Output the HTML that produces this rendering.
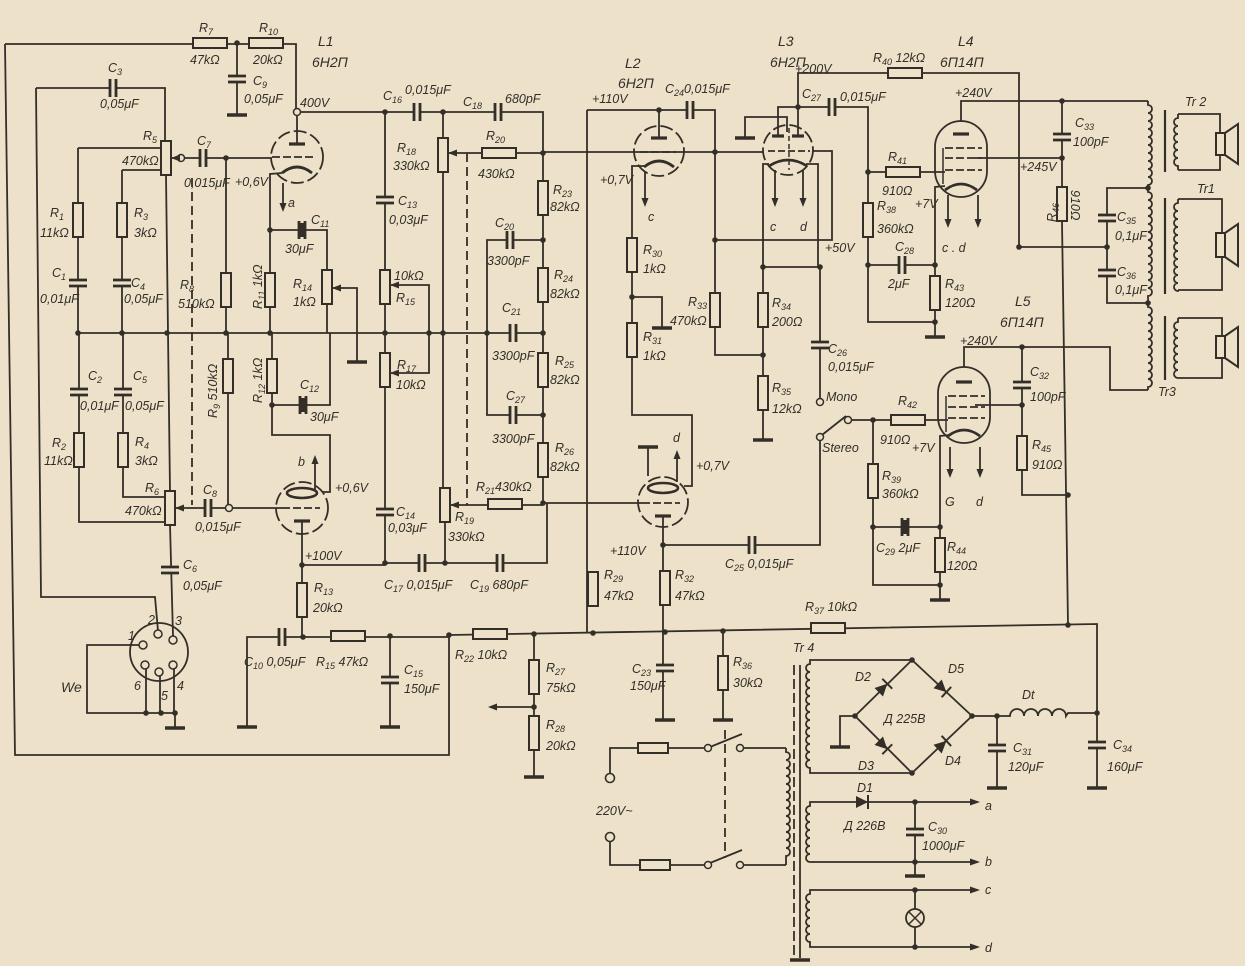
<!DOCTYPE html>
<html><head><meta charset="utf-8"><style>
html,body{margin:0;padding:0;background:#ede2c9;}
svg{display:block}
.w{stroke:#332e28;stroke-width:1.8;fill:none;stroke-linejoin:miter}
text{font-family:"Liberation Sans",sans-serif;font-style:italic;font-size:12.5px;fill:#332e28}
.big{font-size:14px}
</style></head><body>
<svg width="1245" height="966" viewBox="0 0 1245 966" xmlns="http://www.w3.org/2000/svg">
<defs>
<g id="rv"><rect x="-5" y="-17" width="10" height="34" fill="#ede2c9" stroke="#332e28" stroke-width="2"/></g>
<g id="rh"><rect x="-17" y="-5" width="34" height="10" fill="#ede2c9" stroke="#332e28" stroke-width="2"/></g>
<g id="fu"><rect x="-15" y="-5" width="30" height="10" fill="#ede2c9" stroke="#332e28" stroke-width="2"/></g>
<g id="cv"><rect x="-11" y="-3" width="22" height="6" fill="#ede2c9"/><line x1="-9" y1="-3" x2="9" y2="-3" stroke="#332e28" stroke-width="2.8"/><line x1="-9" y1="3" x2="9" y2="3" stroke="#332e28" stroke-width="2.8"/></g>
<g id="ch"><rect x="-3" y="-11" width="6" height="22" fill="#ede2c9"/><line y1="-9" x1="-3" y2="9" x2="-3" stroke="#332e28" stroke-width="2.8"/><line y1="-9" x1="3" y2="9" x2="3" stroke="#332e28" stroke-width="2.8"/></g>
<g id="gnd"><line x1="-10" y1="0" x2="10" y2="0" stroke="#332e28" stroke-width="3.4"/></g>
<g id="dot"><circle r="2.8" fill="#332e28"/></g>
<g id="oc"><circle r="3.5" fill="#ede2c9" stroke="#332e28" stroke-width="1.5"/></g>
<g id="al"><path d="M0,0 L9,-3.5 L9,3.5Z" fill="#332e28"/></g>
<g id="ad"><path d="M0,0 L-3.5,-9 L3.5,-9Z" fill="#332e28"/></g>
<g id="au"><path d="M0,0 L-3.5,9 L3.5,9Z" fill="#332e28"/></g>
<g id="ar"><path d="M0,0 L-10,-3.5 L-10,3.5Z" fill="#332e28"/></g>
<g id="dio"><path d="M-6,-6 L-6,6 L6,0Z" fill="#332e28"/><line x1="6" y1="-7" x2="6" y2="7" stroke="#332e28" stroke-width="2"/></g>
</defs>

<g class="w">
<path d="M5,44 L15,755 H449 V635"/>
<path d="M5,44 H296 V112"/>
<path d="M237,43 V115"/>
<path d="M296,112 H543 V503"/>
<path d="M297,112 V144"/>
<path d="M36,88 H165 V141"/>
<path d="M36,88 L41,597 H155 L158,631"/>
<path d="M78,148 H161 M78,148 V333"/>
<path d="M122,170 H161 M122,170 V333"/>
<path d="M166,175 L170,491"/>
<path d="M171,158 H178 M184,158 H272"/>
<path d="M226,158 V333"/>
<path d="M192,178 V505" stroke-dasharray="9 5"/>
<path d="M282,173 L270,174 V333"/>
<path d="M270,230 H327 V333"/>
<path d="M332,288 H357 V362"/>
<path d="M283,183 V203"/>
<path d="M78,333 H543"/>
<path d="M79,333 V522 H165"/>
<path d="M123,333 V497 H165"/>
<path d="M170,525 L173,636"/>
<path d="M175,508 H226 M232,508 H282"/>
<path d="M228,333 V505"/>
<path d="M272,333 V435 H330 V492 H322"/>
<path d="M272,405 H330 V333"/>
<path d="M302,521 V637"/>
<path d="M302,565 H385"/>
<path d="M315,490 V462"/>
<path d="M139,645 H87 V713 H175 V728"/>
<path d="M146,669 V713 M160,676 V713 M174,669 V713"/>
<path d="M247,727 V637 H449"/>
<path d="M390,636 V727"/>
<path d="M449,635 L1097,624 V788"/>
<path d="M534,634 V777"/>
<path d="M534,707 H497"/>
<path d="M443,112 V488"/>
<path d="M448,153 H543"/>
<path d="M467,153 V505" stroke-dasharray="9 5"/>
<path d="M543,240 H487 V415 H543"/>
<path d="M445,522 V563 H547 V503"/>
<path d="M445,563 H385 V112"/>
<path d="M390,285 H429 V373 H390"/>
<path d="M450,505 H543"/>
<path d="M543,152 H763"/>
<path d="M543,503 H642"/>
<path d="M587,110 V633"/>
<path d="M587,110 H715 V355 H763"/>
<path d="M659,110 V138"/>
<path d="M644,166 L632,166 V415 H692 V486 H684"/>
<path d="M632,297 H662 V328"/>
<path d="M645,172 V198"/>
<path d="M663,516 V720"/>
<path d="M663,545 H820 V440"/>
<path d="M648,476 V447"/>
<path d="M677,482 V458"/>
<path d="M723,631 V720"/>
<path d="M715,240 H832 V151 H812"/>
<path d="M769,164 L763,164 V440"/>
<path d="M806,164 H818 V267"/>
<path d="M763,267 H820 V399"/>
<path d="M745,138 V117 H787 V132"/>
<path d="M778,136 V107 H798"/>
<path d="M798,136 V73 H1019 V247 H1107"/>
<path d="M798,107 H868 V322 H935"/>
<path d="M775,170 V198 M803,170 V198"/>
<path d="M868,172 H945"/>
<path d="M868,265 H935"/>
<path d="M945,186 L935,187 V337"/>
<path d="M961,122 V101 H1148"/>
<path d="M975,158 H1062"/>
<path d="M1062,101 V222 L1068,625"/>
<path d="M948,195 V220 M978,195 V220"/>
<path d="M1148,188 H1107 V303 H1148"/>
<path d="M1148,101 V105 a4,4 0 0 1 0,8 a4,4 0 0 1 0,8 a4,4 0 0 1 0,8 a4,4 0 0 1 0,8 a4,4 0 0 1 0,8 a4,4 0 0 1 0,8 a4,4 0 0 1 0,8 a4,4 0 0 1 0,8 a4,4 0 0 1 0,8 a4,4 0 0 1 0,8 V188"/>
<path d="M1148,188 V192 a4,4 0 0 1 0,8 a4,4 0 0 1 0,8 a4,4 0 0 1 0,8 a4,4 0 0 1 0,8 a4,4 0 0 1 0,8 a4,4 0 0 1 0,8 a4,4 0 0 1 0,8 a4,4 0 0 1 0,8 a4,4 0 0 1 0,8 a4,4 0 0 1 0,8 a4,4 0 0 1 0,8 a4,4 0 0 1 0,8 a4,4 0 0 1 0,8 V303"/>
<path d="M1148,303 V307 a4,4 0 0 1 0,8 a4,4 0 0 1 0,8 a4,4 0 0 1 0,8 a4,4 0 0 1 0,8 a4,4 0 0 1 0,8 a4,4 0 0 1 0,8 a4,4 0 0 1 0,8 a4,4 0 0 1 0,8 a4,4 0 0 1 0,8 a4,4 0 0 1 0,8 V390"/>
<path d="M1165,110 V172 M1165,198 V294 M1165,316 V380" stroke-width="2.2"/>
<path d="M1178,114 H1220 V170 H1178"/>
<path d="M1178,114 V118 a4,4 0 0 0 0,8 a4,4 0 0 0 0,8 a4,4 0 0 0 0,8 a4,4 0 0 0 0,8 a4,4 0 0 0 0,8 a4,4 0 0 0 0,8 V170"/>
<path d="M1178,199 H1222 V290 H1178"/>
<path d="M1178,199 V203 a4,4 0 0 0 0,8 a4,4 0 0 0 0,8 a4,4 0 0 0 0,8 a4,4 0 0 0 0,8 a4,4 0 0 0 0,8 a4,4 0 0 0 0,8 a4,4 0 0 0 0,8 a4,4 0 0 0 0,8 a4,4 0 0 0 0,8 a4,4 0 0 0 0,8 a4,4 0 0 0 0,8 V290"/>
<path d="M1178,318 H1222 V378 H1178"/>
<path d="M1178,318 V322 a4,4 0 0 0 0,8 a4,4 0 0 0 0,8 a4,4 0 0 0 0,8 a4,4 0 0 0 0,8 a4,4 0 0 0 0,8 a4,4 0 0 0 0,8 a4,4 0 0 0 0,8 V378"/>
<path d="M1216,133 h9 v22 h-9 z M1225,133 L1238,124 V164 L1225,155" fill="#ede2c9" stroke-width="2"/>
<path d="M1216,233 h9 v24 h-9 z M1225,233 L1238,224 V266 L1225,257" fill="#ede2c9" stroke-width="2"/>
<path d="M1216,336 h9 v22 h-9 z M1225,336 L1238,327 V367 L1225,358" fill="#ede2c9" stroke-width="2"/>
<path d="M964,367 V347 H1110 V390 H1148"/>
<path d="M1022,347 V495 H1068"/>
<path d="M975,405 H1022"/>
<path d="M851,420 H948"/>
<path d="M873,420 V585 H940"/>
<path d="M873,527 H940"/>
<path d="M950,435 L940,436 V600"/>
<path d="M950,447 V470 M980,447 V470"/>
<path d="M822,435 L846,416"/>
<path d="M610,774 V748 H705"/>
<path d="M710,747 L742,734"/>
<path d="M743,748 H786"/>
<path d="M610,841 V865 H705"/>
<path d="M710,863 L742,850"/>
<path d="M743,865 H786"/>
<path d="M725,730 V858" stroke-dasharray="9 5"/>
<path d="M786,748 V752 a4,4 0 0 1 0,8 a4,4 0 0 1 0,8 a4,4 0 0 1 0,8 a4,4 0 0 1 0,8 a4,4 0 0 1 0,8 a4,4 0 0 1 0,8 a4,4 0 0 1 0,8 a4,4 0 0 1 0,8 a4,4 0 0 1 0,8 a4,4 0 0 1 0,8 a4,4 0 0 1 0,8 a4,4 0 0 1 0,8 a4,4 0 0 1 0,8 V865"/>
<path d="M794,665 V955" stroke-dasharray="10 4"/>
<path d="M800,665 V958"/>
<path d="M912,660 H810 V664 a4,4 0 0 0 0,8 a4,4 0 0 0 0,8 a4,4 0 0 0 0,8 a4,4 0 0 0 0,8 a4,4 0 0 0 0,8 a4,4 0 0 0 0,8 a4,4 0 0 0 0,8 a4,4 0 0 0 0,8 a4,4 0 0 0 0,8 a4,4 0 0 0 0,8 a4,4 0 0 0 0,8 a4,4 0 0 0 0,8 a4,4 0 0 0 0,8 V773 H912"/>
<path d="M912,660 L855,716 L912,773 L972,716 Z"/>
<path d="M855,716 H840 V747"/>
<path d="M972,716 H1010 a7,7 0 0 1 14,0 a7,7 0 0 1 14,0 a7,7 0 0 1 14,0 a7,7 0 0 1 14,0 L1068,713 H1097"/>
<path d="M997,716 V788"/>
<path d="M972,802 H810 V806 a4,4 0 0 0 0,8 a4,4 0 0 0 0,8 a4,4 0 0 0 0,8 a4,4 0 0 0 0,8 a4,4 0 0 0 0,8 a4,4 0 0 0 0,8 a4,4 0 0 0 0,8 V862 H972"/>
<path d="M915,802 V876"/>
<path d="M972,890 H810 V894 a4,4 0 0 0 0,8 a4,4 0 0 0 0,8 a4,4 0 0 0 0,8 a4,4 0 0 0 0,8 a4,4 0 0 0 0,8 a4,4 0 0 0 0,8 V947 H972"/>
<path d="M915,890 V947"/>
</g>

<g class="w" stroke-width="2.2">
<circle cx="297" cy="157" r="26" stroke-dasharray="13 4"/>
<line x1="289" y1="144" x2="305" y2="144" stroke-width="3.2"/>
<line x1="272" y1="157" x2="314" y2="157" stroke-dasharray="8 3"/>
<path d="M282,173 Q297,161 312,173" stroke-width="2.8"/>

<circle cx="302" cy="508" r="26" stroke-dasharray="13 4"/>
<line x1="294" y1="521" x2="310" y2="521" stroke-width="3.2"/>
<line x1="282" y1="508" x2="320" y2="508" stroke-dasharray="8 3"/>
<ellipse cx="302" cy="493" rx="15" ry="5" stroke-width="2.6"/>

<circle cx="659" cy="151" r="25" stroke-dasharray="13 4"/>
<line x1="651" y1="138" x2="667" y2="138" stroke-width="3.2"/>
<line x1="640" y1="152" x2="676" y2="152" stroke-dasharray="8 3"/>
<path d="M644,167 Q659,155 674,167" stroke-width="2.8"/>

<circle cx="663" cy="502" r="25" stroke-dasharray="13 4"/>
<line x1="655" y1="516" x2="671" y2="516" stroke-width="3.2"/>
<line x1="642" y1="503" x2="680" y2="503" stroke-dasharray="8 3"/>
<ellipse cx="663" cy="488" rx="15" ry="5" stroke-width="2.6"/>

<circle cx="788" cy="150" r="25" stroke-dasharray="13 4"/>
<line x1="772" y1="136" x2="784" y2="136" stroke-width="3.2"/>
<line x1="792" y1="136" x2="804" y2="136" stroke-width="3.2"/>
<line x1="768" y1="151" x2="810" y2="151" stroke-dasharray="7 3"/>
<line x1="789" y1="128" x2="789" y2="170" stroke-dasharray="5 3" stroke-width="1.5"/>
<path d="M769,166 Q788,154 807,166" stroke-width="2.8"/>

<rect x="935" y="121" width="52" height="76" rx="26" ry="26"/>
<line x1="953" y1="134" x2="969" y2="134" stroke-width="3.2"/>
<line x1="945" y1="148" x2="982" y2="148" stroke-dasharray="8 3"/>
<line x1="945" y1="158" x2="982" y2="158" stroke-dasharray="8 3"/>
<line x1="945" y1="170" x2="982" y2="170" stroke-dasharray="8 3"/>
<line x1="943" y1="148" x2="943" y2="184" stroke-width="1.5"/>
<path d="M945,190 Q961,178 977,190" stroke-width="2.8"/>

<rect x="938" y="367" width="52" height="76" rx="26" ry="26"/>
<line x1="956" y1="382" x2="972" y2="382" stroke-width="3.2"/>
<line x1="948" y1="396" x2="985" y2="396" stroke-dasharray="8 3"/>
<line x1="948" y1="407" x2="985" y2="407" stroke-dasharray="8 3"/>
<line x1="948" y1="418" x2="985" y2="418" stroke-dasharray="8 3"/>
<line x1="946" y1="396" x2="946" y2="432" stroke-width="1.5"/>
<path d="M948,436 Q964,424 980,436" stroke-width="2.8"/>

<circle cx="159" cy="652" r="29"/>
<circle cx="143" cy="645" r="4" stroke-width="1.5" fill="#ede2c9"/>
<circle cx="158" cy="634" r="4" stroke-width="1.5" fill="#ede2c9"/>
<circle cx="173" cy="640" r="4" stroke-width="1.5" fill="#ede2c9"/>
<circle cx="145" cy="665" r="4" stroke-width="1.5" fill="#ede2c9"/>
<circle cx="159" cy="672" r="4" stroke-width="1.5" fill="#ede2c9"/>
<circle cx="173" cy="665" r="4" stroke-width="1.5" fill="#ede2c9"/>

<circle cx="915" cy="918" r="9" stroke-width="1.8" fill="#ede2c9"/>
<path d="M909,912 L921,924 M921,912 L909,924" stroke-width="1.5"/>
</g>

<use href="#rh" x="210" y="43"/><use href="#rh" x="266" y="43"/>
<use href="#rv" x="78" y="220"/><use href="#rv" x="122" y="220"/>
<use href="#rv" x="166" y="158"/><use href="#rv" x="170" y="508"/>
<use href="#rv" x="226" y="290"/><use href="#rv" x="270" y="290"/>
<use href="#rv" x="327" y="287"/><use href="#rv" x="385" y="287"/>
<use href="#rv" x="385" y="370"/><use href="#rv" x="443" y="155"/>
<use href="#rv" x="445" y="505"/>
<use href="#rv" x="543" y="198"/><use href="#rv" x="543" y="285"/>
<use href="#rv" x="543" y="370"/><use href="#rv" x="543" y="460"/>
<use href="#rv" x="79" y="450"/><use href="#rv" x="123" y="450"/>
<use href="#rv" x="228" y="376"/><use href="#rv" x="272" y="376"/>
<use href="#rv" x="302" y="600"/>
<use href="#rv" x="534" y="677"/><use href="#rv" x="534" y="733"/>
<use href="#rv" x="593" y="589"/><use href="#rv" x="632" y="255"/>
<use href="#rv" x="632" y="340"/><use href="#rv" x="665" y="588"/>
<use href="#rv" x="715" y="310"/><use href="#rv" x="763" y="310"/>
<use href="#rv" x="763" y="393"/><use href="#rv" x="723" y="673"/>
<use href="#rv" x="868" y="220"/><use href="#rv" x="935" y="293"/>
<use href="#rv" x="1062" y="204"/><use href="#rv" x="873" y="481"/>
<use href="#rv" x="940" y="555"/><use href="#rv" x="1022" y="453"/>
<use href="#rh" x="499" y="153"/><use href="#rh" x="505" y="504"/>
<use href="#rh" x="348" y="636"/><use href="#rh" x="490" y="634"/>
<use href="#rh" x="828" y="628"/><use href="#rh" x="905" y="73"/>
<use href="#rh" x="903" y="172"/><use href="#rh" x="908" y="420"/>
<use href="#fu" x="653" y="748"/><use href="#fu" x="655" y="865"/>

<use href="#cv" x="237" y="79"/><use href="#cv" x="78" y="283"/><use href="#cv" x="122" y="283"/>
<use href="#cv" x="385" y="200"/><use href="#cv" x="79" y="392"/><use href="#cv" x="123" y="392"/>
<use href="#cv" x="385" y="512"/><use href="#cv" x="170" y="570"/><use href="#cv" x="390" y="680"/>
<use href="#cv" x="665" y="668"/><use href="#cv" x="820" y="345"/><use href="#cv" x="1062" y="137"/>
<use href="#cv" x="1107" y="218"/><use href="#cv" x="1107" y="273"/><use href="#cv" x="1022" y="385"/>
<use href="#cv" x="997" y="748"/><use href="#cv" x="1097" y="745"/><use href="#cv" x="915" y="832"/>
<use href="#ch" x="113" y="88"/><use href="#ch" x="203" y="158"/><use href="#ch" x="208" y="508"/>
<use href="#ch" x="302" y="230"/><use href="#ch" x="303" y="405"/><use href="#ch" x="417" y="112"/>
<use href="#ch" x="498" y="112"/><use href="#ch" x="510" y="240"/><use href="#ch" x="513" y="333"/>
<use href="#ch" x="513" y="415"/><use href="#ch" x="422" y="563"/><use href="#ch" x="500" y="563"/>
<use href="#ch" x="690" y="110"/><use href="#ch" x="752" y="545"/><use href="#ch" x="832" y="107"/>
<use href="#ch" x="902" y="265"/><use href="#ch" x="905" y="527"/><use href="#ch" x="282" y="637"/>
<rect x="299" y="223" width="6" height="14" fill="#332e28"/>
<rect x="300" y="398" width="6" height="14" fill="#332e28"/>
<rect x="902" y="520" width="6" height="14" fill="#332e28"/>

<use href="#gnd" x="237" y="115"/><use href="#gnd" x="357" y="362"/><use href="#gnd" x="175" y="728"/>
<use href="#gnd" x="247" y="727"/><use href="#gnd" x="390" y="727"/><use href="#gnd" x="534" y="777"/>
<use href="#gnd" x="665" y="720"/><use href="#gnd" x="723" y="720"/><use href="#gnd" x="662" y="328"/>
<use href="#gnd" x="648" y="447"/><use href="#gnd" x="745" y="138"/><use href="#gnd" x="763" y="440"/>
<use href="#gnd" x="935" y="337"/><use href="#gnd" x="940" y="600"/><use href="#gnd" x="840" y="747"/>
<use href="#gnd" x="997" y="788"/><use href="#gnd" x="1097" y="788"/><use href="#gnd" x="915" y="876"/>
<use href="#gnd" x="800" y="960"/>

<use href="#dot" x="237" y="43"/><use href="#dot" x="385" y="112"/><use href="#dot" x="443" y="112"/>
<use href="#dot" x="543" y="153"/><use href="#dot" x="543" y="240"/><use href="#dot" x="543" y="333"/>
<use href="#dot" x="543" y="415"/><use href="#dot" x="543" y="503"/><use href="#dot" x="226" y="158"/>
<use href="#dot" x="270" y="230"/><use href="#dot" x="78" y="333"/><use href="#dot" x="122" y="333"/>
<use href="#dot" x="167" y="333"/><use href="#dot" x="226" y="333"/><use href="#dot" x="270" y="333"/>
<use href="#dot" x="385" y="333"/><use href="#dot" x="429" y="333"/><use href="#dot" x="443" y="333"/>
<use href="#dot" x="487" y="333"/><use href="#dot" x="272" y="405"/><use href="#dot" x="302" y="565"/>
<use href="#dot" x="303" y="637"/><use href="#dot" x="390" y="636"/><use href="#dot" x="449" y="635"/>
<use href="#dot" x="534" y="634"/><use href="#dot" x="593" y="633"/><use href="#dot" x="665" y="632"/>
<use href="#dot" x="723" y="631"/><use href="#dot" x="1068" y="625"/><use href="#dot" x="1097" y="713"/>
<use href="#dot" x="997" y="716"/><use href="#dot" x="632" y="297"/><use href="#dot" x="659" y="110"/>
<use href="#dot" x="715" y="152"/><use href="#dot" x="715" y="240"/><use href="#dot" x="763" y="267"/>
<use href="#dot" x="763" y="355"/><use href="#dot" x="820" y="267"/><use href="#dot" x="798" y="107"/>
<use href="#dot" x="868" y="172"/><use href="#dot" x="868" y="265"/><use href="#dot" x="935" y="265"/>
<use href="#dot" x="935" y="322"/><use href="#dot" x="1062" y="101"/><use href="#dot" x="1062" y="158"/>
<use href="#dot" x="1107" y="247"/><use href="#dot" x="1148" y="188"/><use href="#dot" x="1148" y="303"/>
<use href="#dot" x="1022" y="347"/><use href="#dot" x="1022" y="405"/><use href="#dot" x="1068" y="495"/>
<use href="#dot" x="873" y="420"/><use href="#dot" x="873" y="527"/><use href="#dot" x="940" y="527"/>
<use href="#dot" x="940" y="585"/><use href="#dot" x="663" y="545"/><use href="#dot" x="385" y="563"/>
<use href="#dot" x="445" y="563"/><use href="#dot" x="534" y="707"/><use href="#dot" x="912" y="660"/>
<use href="#dot" x="855" y="716"/><use href="#dot" x="972" y="716"/><use href="#dot" x="912" y="773"/>
<use href="#dot" x="915" y="802"/><use href="#dot" x="915" y="862"/><use href="#dot" x="915" y="890"/>
<use href="#dot" x="915" y="947"/><use href="#dot" x="146" y="713"/><use href="#dot" x="161" y="713"/>
<use href="#dot" x="175" y="713"/><use href="#dot" x="1019" y="247"/>
<use href="#oc" x="297" y="112"/><use href="#oc" x="181" y="158"/><use href="#oc" x="229" y="508"/>
<use href="#oc" x="820" y="402"/><use href="#oc" x="820" y="437"/><use href="#oc" x="848" y="420"/>
<use href="#oc" x="708" y="748"/><use href="#oc" x="740" y="748"/><use href="#oc" x="708" y="865"/>
<use href="#oc" x="740" y="865"/>
<circle cx="610" cy="778" r="4.5" fill="#ede2c9" stroke="#332e28" stroke-width="1.6"/>
<circle cx="610" cy="837" r="4.5" fill="#ede2c9" stroke="#332e28" stroke-width="1.6"/>

<use href="#al" x="171" y="158"/><use href="#al" x="175" y="508"/><use href="#al" x="332" y="288"/>
<use href="#al" x="390" y="285"/><use href="#al" x="390" y="373"/><use href="#al" x="448" y="153"/>
<use href="#al" x="450" y="505"/><use href="#al" x="488" y="707"/>
<use href="#ad" x="283" y="212"/><use href="#ad" x="645" y="207"/><use href="#ad" x="775" y="207"/>
<use href="#ad" x="803" y="207"/><use href="#ad" x="948" y="228"/><use href="#ad" x="978" y="228"/>
<use href="#ad" x="950" y="478"/><use href="#ad" x="980" y="478"/>
<use href="#au" x="315" y="455"/><use href="#au" x="677" y="450"/>
<use href="#ar" x="980" y="802"/><use href="#ar" x="980" y="862"/><use href="#ar" x="980" y="890"/><use href="#ar" x="980" y="947"/>
<use href="#dio" transform="translate(883,688) rotate(-45)"/>
<use href="#dio" transform="translate(942,688) rotate(43)"/>
<use href="#dio" transform="translate(883,745) rotate(45)"/>
<use href="#dio" transform="translate(942,745) rotate(-43)"/>
<use href="#dio" transform="translate(862,802)"/>

<text x="199" y="32">R<tspan dy="3" font-size="9">7</tspan></text>
<text x="190" y="64">47kΩ</text>
<text x="259" y="32">R<tspan dy="3" font-size="9">10</tspan></text>
<text x="253" y="64">20kΩ</text>
<text class="big" x="318" y="46">L1</text>
<text class="big" x="312" y="67">6H2П</text>
<text x="253" y="85">C<tspan dy="3" font-size="9">9</tspan></text>
<text x="244" y="103">0,05μF</text>
<text x="300" y="107">400V</text>
<text x="108" y="72">C<tspan dy="3" font-size="9">3</tspan></text>
<text x="100" y="108">0,05μF</text>
<text x="143" y="140">R<tspan dy="3" font-size="9">5</tspan></text>
<text x="122" y="165">470kΩ</text>
<text x="197" y="145">C<tspan dy="3" font-size="9">7</tspan></text>
<text x="184" y="187">0,015μF</text>
<text x="235" y="186">+0,6V</text>
<text x="288" y="207">a</text>
<text x="311" y="224">C<tspan dy="3" font-size="9">11</tspan></text>
<text x="285" y="253">30μF</text>
<text x="50" y="217">R<tspan dy="3" font-size="9">1</tspan></text>
<text x="40" y="237">11kΩ</text>
<text x="134" y="217">R<tspan dy="3" font-size="9">3</tspan></text>
<text x="134" y="237">3kΩ</text>
<text x="52" y="277">C<tspan dy="3" font-size="9">1</tspan></text>
<text x="40" y="303">0,01μF</text>
<text x="131" y="287">C<tspan dy="3" font-size="9">4</tspan></text>
<text x="124" y="303">0,05μF</text>
<text x="180" y="289">R<tspan dy="3" font-size="9">8</tspan></text>
<text x="178" y="308">510kΩ</text>
<text transform="translate(262,309) rotate(-90)">R<tspan dy="3" font-size="9">11</tspan><tspan dy="-3"> 1kΩ</tspan></text>
<text x="293" y="288">R<tspan dy="3" font-size="9">14</tspan></text>
<text x="293" y="306">1kΩ</text>
<text x="383" y="100">C<tspan dy="3" font-size="9">16</tspan></text>
<text x="405" y="94">0,015μF</text>
<text x="463" y="106">C<tspan dy="3" font-size="9">18</tspan></text>
<text x="505" y="103">680pF</text>
<text x="397" y="152">R<tspan dy="3" font-size="9">18</tspan></text>
<text x="393" y="170">330kΩ</text>
<text x="486" y="140">R<tspan dy="3" font-size="9">20</tspan></text>
<text x="478" y="178">430kΩ</text>
<text x="398" y="205">C<tspan dy="3" font-size="9">13</tspan></text>
<text x="389" y="224">0,03μF</text>
<text x="553" y="194">R<tspan dy="3" font-size="9">23</tspan></text>
<text x="550" y="211">82kΩ</text>
<text x="495" y="227">C<tspan dy="3" font-size="9">20</tspan></text>
<text x="487" y="265">3300pF</text>
<text x="554" y="279">R<tspan dy="3" font-size="9">24</tspan></text>
<text x="550" y="298">82kΩ</text>
<text x="394" y="280">10kΩ</text>
<text x="396" y="302">R<tspan dy="3" font-size="9">15</tspan></text>
<text x="502" y="312">C<tspan dy="3" font-size="9">21</tspan></text>
<text x="492" y="360">3300pF</text>
<text x="555" y="365">R<tspan dy="3" font-size="9">25</tspan></text>
<text x="550" y="384">82kΩ</text>
<text x="397" y="369">R<tspan dy="3" font-size="9">17</tspan></text>
<text x="396" y="389">10kΩ</text>
<text x="506" y="400">C<tspan dy="3" font-size="9">27</tspan></text>
<text x="492" y="443">3300pF</text>
<text x="555" y="452">R<tspan dy="3" font-size="9">26</tspan></text>
<text x="550" y="471">82kΩ</text>
<text x="476" y="491">R<tspan dy="3" font-size="9">21</tspan><tspan dy="-3">430kΩ</tspan></text>
<text x="455" y="521">R<tspan dy="3" font-size="9">19</tspan></text>
<text x="448" y="541">330kΩ</text>
<text x="396" y="516">C<tspan dy="3" font-size="9">14</tspan></text>
<text x="388" y="532">0,03μF</text>
<text x="384" y="589">C<tspan dy="3" font-size="9">17</tspan><tspan dy="-3"> 0,015μF</tspan></text>
<text x="470" y="589">C<tspan dy="3" font-size="9">19</tspan><tspan dy="-3"> 680pF</tspan></text>
<text class="big" x="625" y="68">L2</text>
<text class="big" x="618" y="88">6H2П</text>
<text x="592" y="103">+110V</text>
<text x="665" y="93">C<tspan dy="3" font-size="9">24</tspan><tspan dy="-3">0,015μF</tspan></text>
<text x="600" y="184">+0,7V</text>
<text x="648" y="221">c</text>
<text x="643" y="254">R<tspan dy="3" font-size="9">30</tspan></text>
<text x="643" y="273">1kΩ</text>
<text x="643" y="341">R<tspan dy="3" font-size="9">31</tspan></text>
<text x="643" y="360">1kΩ</text>
<text x="688" y="306">R<tspan dy="3" font-size="9">33</tspan></text>
<text x="670" y="325">470kΩ</text>
<text class="big" x="778" y="46">L3</text>
<text class="big" x="770" y="67">6H2П</text>
<text x="795" y="73">+200V</text>
<text x="802" y="98">C<tspan dy="3" font-size="9">27</tspan></text>
<text x="840" y="101">0,015μF</text>
<text x="770" y="231">c</text>
<text x="800" y="231">d</text>
<text x="825" y="252">+50V</text>
<text x="772" y="307">R<tspan dy="3" font-size="9">34</tspan></text>
<text x="772" y="326">200Ω</text>
<text x="772" y="392">R<tspan dy="3" font-size="9">35</tspan></text>
<text x="772" y="413">12kΩ</text>
<text x="828" y="353">C<tspan dy="3" font-size="9">26</tspan></text>
<text x="828" y="371">0,015μF</text>
<text x="826" y="401">Mono</text>
<text class="big" x="958" y="46">L4</text>
<text class="big" x="940" y="67">6П14П</text>
<text x="873" y="62">R<tspan dy="3" font-size="9">40</tspan><tspan dy="-3"> 12kΩ</tspan></text>
<text x="955" y="97">+240V</text>
<text x="888" y="161">R<tspan dy="3" font-size="9">41</tspan></text>
<text x="882" y="195">910Ω</text>
<text x="877" y="210">R<tspan dy="3" font-size="9">38</tspan></text>
<text x="877" y="233">360kΩ</text>
<text x="915" y="208">+7V</text>
<text x="895" y="251">C<tspan dy="3" font-size="9">28</tspan></text>
<text x="888" y="288">2μF</text>
<text x="942" y="252">c . d</text>
<text x="945" y="288">R<tspan dy="3" font-size="9">43</tspan></text>
<text x="945" y="307">120Ω</text>
<text x="1075" y="127">C<tspan dy="3" font-size="9">33</tspan></text>
<text x="1073" y="146">100pF</text>
<text x="1020" y="171">+245V</text>
<text transform="translate(1056,222) rotate(-90)">R<tspan dy="3" font-size="9">46</tspan></text>
<text transform="translate(1071,190) rotate(90)">910Ω</text>
<text x="1117" y="221">C<tspan dy="3" font-size="9">35</tspan></text>
<text x="1115" y="240">0,1μF</text>
<text x="1117" y="276">C<tspan dy="3" font-size="9">36</tspan></text>
<text x="1115" y="294">0,1μF</text>
<text x="1185" y="106">Tr 2</text>
<text x="1197" y="193">Tr1</text>
<text x="1158" y="396">Tr3</text>
<text class="big" x="1015" y="306">L5</text>
<text class="big" x="1000" y="327">6П14П</text>
<text x="960" y="345">+240V</text>
<text x="1030" y="376">C<tspan dy="3" font-size="9">32</tspan></text>
<text x="1030" y="401">100pF</text>
<text x="898" y="405">R<tspan dy="3" font-size="9">42</tspan></text>
<text x="880" y="444">910Ω</text>
<text x="912" y="452">+7V</text>
<text x="822" y="452">Stereo</text>
<text x="1032" y="449">R<tspan dy="3" font-size="9">45</tspan></text>
<text x="1032" y="469">910Ω</text>
<text x="882" y="480">R<tspan dy="3" font-size="9">39</tspan></text>
<text x="882" y="498">360kΩ</text>
<text x="945" y="506">G</text>
<text x="976" y="506">d</text>
<text x="876" y="552">C<tspan dy="3" font-size="9">29</tspan><tspan dy="-3"> 2μF</tspan></text>
<text x="947" y="551">R<tspan dy="3" font-size="9">44</tspan></text>
<text x="947" y="570">120Ω</text>
<text x="88" y="380">C<tspan dy="3" font-size="9">2</tspan></text>
<text x="80" y="410">0,01μF</text>
<text x="133" y="380">C<tspan dy="3" font-size="9">5</tspan></text>
<text x="125" y="410">0,05μF</text>
<text x="52" y="447">R<tspan dy="3" font-size="9">2</tspan></text>
<text x="44" y="465">11kΩ</text>
<text x="135" y="446">R<tspan dy="3" font-size="9">4</tspan></text>
<text x="135" y="465">3kΩ</text>
<text x="145" y="492">R<tspan dy="3" font-size="9">6</tspan></text>
<text x="125" y="515">470kΩ</text>
<text x="203" y="494">C<tspan dy="3" font-size="9">8</tspan></text>
<text x="195" y="531">0,015μF</text>
<text transform="translate(217,418) rotate(-90)">R<tspan dy="3" font-size="9">9</tspan><tspan dy="-3"> 510kΩ</tspan></text>
<text transform="translate(262,403) rotate(-90)">R<tspan dy="3" font-size="9">12</tspan><tspan dy="-3"> 1kΩ</tspan></text>
<text x="300" y="389">C<tspan dy="3" font-size="9">12</tspan></text>
<text x="310" y="421">30μF</text>
<text x="298" y="466">b</text>
<text x="335" y="492">+0,6V</text>
<text x="305" y="560">+100V</text>
<text x="183" y="569">C<tspan dy="3" font-size="9">6</tspan></text>
<text x="183" y="590">0,05μF</text>
<text x="314" y="592">R<tspan dy="3" font-size="9">13</tspan></text>
<text x="313" y="612">20kΩ</text>
<text x="128" y="640" font-size="11">1</text>
<text x="148" y="624" font-size="11">2</text>
<text x="175" y="625" font-size="11">3</text>
<text x="134" y="690" font-size="11">6</text>
<text x="161" y="700" font-size="11">5</text>
<text x="177" y="690" font-size="11">4</text>
<text class="big" x="61" y="692">We</text>
<text x="244" y="666">C<tspan dy="3" font-size="9">10</tspan><tspan dy="-3"> 0,05μF</tspan></text>
<text x="316" y="666">R<tspan dy="3" font-size="9">15</tspan><tspan dy="-3"> 47kΩ</tspan></text>
<text x="404" y="674">C<tspan dy="3" font-size="9">15</tspan></text>
<text x="404" y="693">150μF</text>
<text x="455" y="659">R<tspan dy="3" font-size="9">22</tspan><tspan dy="-3"> 10kΩ</tspan></text>
<text x="546" y="672">R<tspan dy="3" font-size="9">27</tspan></text>
<text x="546" y="692">75kΩ</text>
<text x="546" y="729">R<tspan dy="3" font-size="9">28</tspan></text>
<text x="546" y="750">20kΩ</text>
<text x="610" y="555">+110V</text>
<text x="725" y="568">C<tspan dy="3" font-size="9">25</tspan><tspan dy="-3"> 0,015μF</tspan></text>
<text x="604" y="579">R<tspan dy="3" font-size="9">29</tspan></text>
<text x="604" y="600">47kΩ</text>
<text x="675" y="579">R<tspan dy="3" font-size="9">32</tspan></text>
<text x="675" y="600">47kΩ</text>
<text x="673" y="442">d</text>
<text x="696" y="470">+0,7V</text>
<text x="632" y="673">C<tspan dy="3" font-size="9">23</tspan></text>
<text x="630" y="690">150μF</text>
<text x="733" y="666">R<tspan dy="3" font-size="9">36</tspan></text>
<text x="733" y="687">30kΩ</text>
<text x="805" y="611">R<tspan dy="3" font-size="9">37</tspan><tspan dy="-3"> 10kΩ</tspan></text>
<text x="793" y="652">Tr 4</text>
<text x="855" y="681">D2</text>
<text x="948" y="673">D5</text>
<text x="884" y="723">Д 225В</text>
<text x="858" y="770">D3</text>
<text x="945" y="765">D4</text>
<text x="1022" y="699">Dt</text>
<text x="1013" y="752">C<tspan dy="3" font-size="9">31</tspan></text>
<text x="1008" y="771">120μF</text>
<text x="1113" y="749">C<tspan dy="3" font-size="9">34</tspan></text>
<text x="1107" y="771">160μF</text>
<text x="857" y="792">D1</text>
<text x="844" y="830">Д 226В</text>
<text x="928" y="831">C<tspan dy="3" font-size="9">30</tspan></text>
<text x="922" y="850">1000μF</text>
<text x="596" y="815">220V~</text>
<text x="985" y="810">a</text>
<text x="985" y="866">b</text>
<text x="985" y="894">c</text>
<text x="985" y="952">d</text>
</svg>
</body></html>
